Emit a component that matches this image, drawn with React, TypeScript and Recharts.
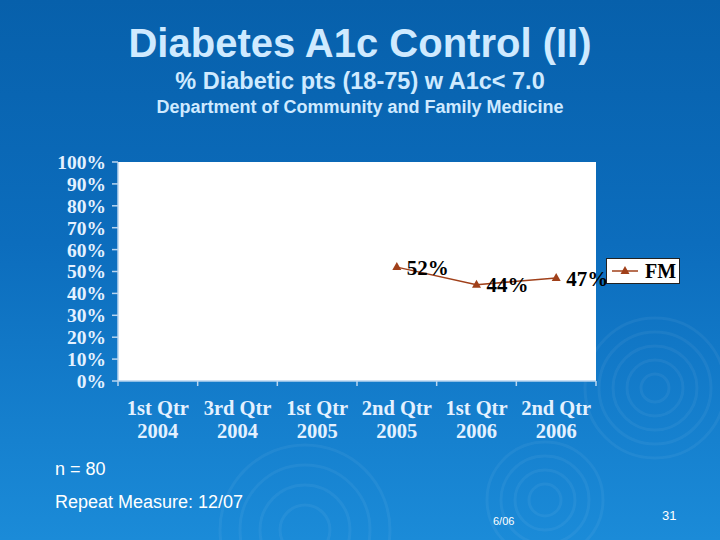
import React from "react";
import { LineChart, Line, XAxis, YAxis, CartesianGrid, LabelList } from "recharts";

const quarters = [
  ["1st Qtr", "2004"],
  ["3rd Qtr", "2004"],
  ["1st Qtr", "2005"],
  ["2nd Qtr", "2005"],
  ["1st Qtr", "2006"],
  ["2nd Qtr", "2006"],
];
const fmValues: (number | null)[] = [null, null, null, 52, 44, 47];
const yTicks = [0, 10, 20, 30, 40, 50, 60, 70, 80, 90, 100];
const seriesName = "FM";

const serif = "'Liberation Serif', 'Times New Roman', serif";
const sans = "'Liberation Sans', Arial, sans-serif";
const lineColor = "#a0401a";
const axisColor = "#b9d5ef";
const tickColor = "#e4f1ff";

// x axis runs 0..n, categories sit on the half steps
const data = quarters
  .map((q, i) => ({ pos: i + 0.5, fm: fmValues[i] }))
  .filter((d) => d.fm != null);
const xTicks: number[] = [];
for (let i = 0; i <= quarters.length * 2; i++) xTicks.push(i / 2);

const XTick = ({ x, y, payload }: any) => {
  const v = payload.value as number;
  if (Number.isInteger(v)) {
    return <line x1={x} x2={x} y1={y} y2={y + 5} stroke={axisColor} strokeWidth={1.5} />;
  }
  const q = quarters[Math.floor(v)];
  return (
    <text x={x} y={y} textAnchor="middle" fill={tickColor} fontFamily={serif} fontWeight="bold" fontSize={20.5}>
      <tspan x={x} dy={34}>{q[0]}</tspan>
      <tspan x={x} dy={23}>{q[1]}</tspan>
    </text>
  );
};

const Tri = (props: any) => {
  const { cx, cy } = props;
  if (cx == null || cy == null) return null;
  return <path d={`M${cx},${cy - 5} L${cx + 4.5},${cy + 3} L${cx - 4.5},${cy + 3} Z`} fill={lineColor} />;
};

function Rings() {
  const groups = [
    { cx: 655, cy: 388, r: [14, 28, 42, 56, 70] },
    { cx: 545, cy: 500, r: [16, 30, 44, 58] },
    { cx: 305, cy: 530, r: [25, 45, 65, 85] },
  ];
  return (
    <svg width={720} height={540} style={{ position: "absolute", left: 0, top: 0 }}>
      {groups.map((g, gi) =>
        g.r.map((r, ri) => (
          <circle key={`${gi}-${ri}`} cx={g.cx} cy={g.cy} r={r} fill="none" stroke="rgba(255,255,255,0.05)" strokeWidth={3} />
        ))
      )}
    </svg>
  );
}

export default function App() {
  return (
    <div
      style={{
        position: "absolute",
        left: 0,
        top: 0,
        width: 720,
        height: 540,
        overflow: "hidden",
        background: "linear-gradient(180deg, #0760ab 0%, #0c6dbd 45%, #1b8bd8 100%)",
      }}
    >
      <Rings />
      <div style={{ position: "absolute", left: 0, top: 17, width: 720, textAlign: "center", color: "#cfeaff", fontFamily: sans, fontWeight: "bold" }}>
        <div style={{ fontSize: 40, lineHeight: "52px" }}>Diabetes A1c Control (II)</div>
        <div style={{ fontSize: 23.5, lineHeight: "24px" }}>% Diabetic pts (18-75) w A1c&lt; 7.0</div>
        <div style={{ fontSize: 18, lineHeight: "26px", marginTop: 1 }}>Department of Community and Family Medicine</div>
      </div>

      <div style={{ position: "absolute", left: 0, top: 0 }}>
        <LineChart width={720} height={540} data={data} margin={{ top: 162, right: 124, bottom: 99, left: 48 }}>
          <CartesianGrid fill="#ffffff" horizontal={false} vertical={false} />
          <XAxis
            dataKey="pos"
            type="number"
            domain={[0, quarters.length]}
            ticks={xTicks}
            interval={0}
            height={60}
            tickSize={0}
            tickMargin={0}
            tickLine={false}
            tick={<XTick />}
            axisLine={{ stroke: axisColor, strokeWidth: 1.5 }}
          />
          <YAxis
            type="number"
            domain={[0, 100]}
            ticks={yTicks}
            interval={0}
            width={70}
            tickSize={6}
            tickMargin={6}
            tickFormatter={(v) => `${v}%`}
            tick={{ fill: tickColor, fontFamily: serif, fontWeight: "bold", fontSize: 19.5 }}
            tickLine={{ stroke: axisColor, strokeWidth: 1.5 }}
            axisLine={{ stroke: axisColor, strokeWidth: 1.5 }}
          />
          <Line
            dataKey="fm"
            name={seriesName}
            stroke={lineColor}
            strokeWidth={1.5}
            dot={<Tri />}
            activeDot={false}
            isAnimationActive={false}
          >
            <LabelList
              dataKey="fm"
              position="right"
              offset={10}
              formatter={(v: any) => `${v}%`}
              style={{ fill: "#000", fontFamily: serif, fontWeight: "bold", fontSize: 21 }}
            />
          </Line>
        </LineChart>
      </div>

      <div
        style={{
          position: "absolute",
          left: 606,
          top: 258,
          width: 72,
          height: 24,
          background: "#fff",
          border: "1px solid #222",
          display: "flex",
          alignItems: "center",
        }}
      >
        <svg width={34} height={24}>
          <line x1={5} x2={31} y1={12} y2={12} stroke={lineColor} strokeWidth={1.5} />
          <path d="M18,7 L22.5,15 L13.5,15 Z" fill={lineColor} />
        </svg>
        <span style={{ fontFamily: serif, fontWeight: "bold", fontSize: 20, color: "#000", marginLeft: 4 }}>{seriesName}</span>
      </div>

      <div style={{ position: "absolute", left: 55, top: 459, color: "#fff", fontFamily: sans, fontSize: 18 }}>n = 80</div>
      <div style={{ position: "absolute", left: 55, top: 492, color: "#fff", fontFamily: sans, fontSize: 18 }}>Repeat Measure: 12/07</div>
      <div style={{ position: "absolute", left: 493, top: 515, color: "#fff", fontFamily: sans, fontSize: 11 }}>6/06</div>
      <div style={{ position: "absolute", left: 662, top: 508, color: "#fff", fontFamily: sans, fontSize: 13 }}>31</div>
    </div>
  );
}
